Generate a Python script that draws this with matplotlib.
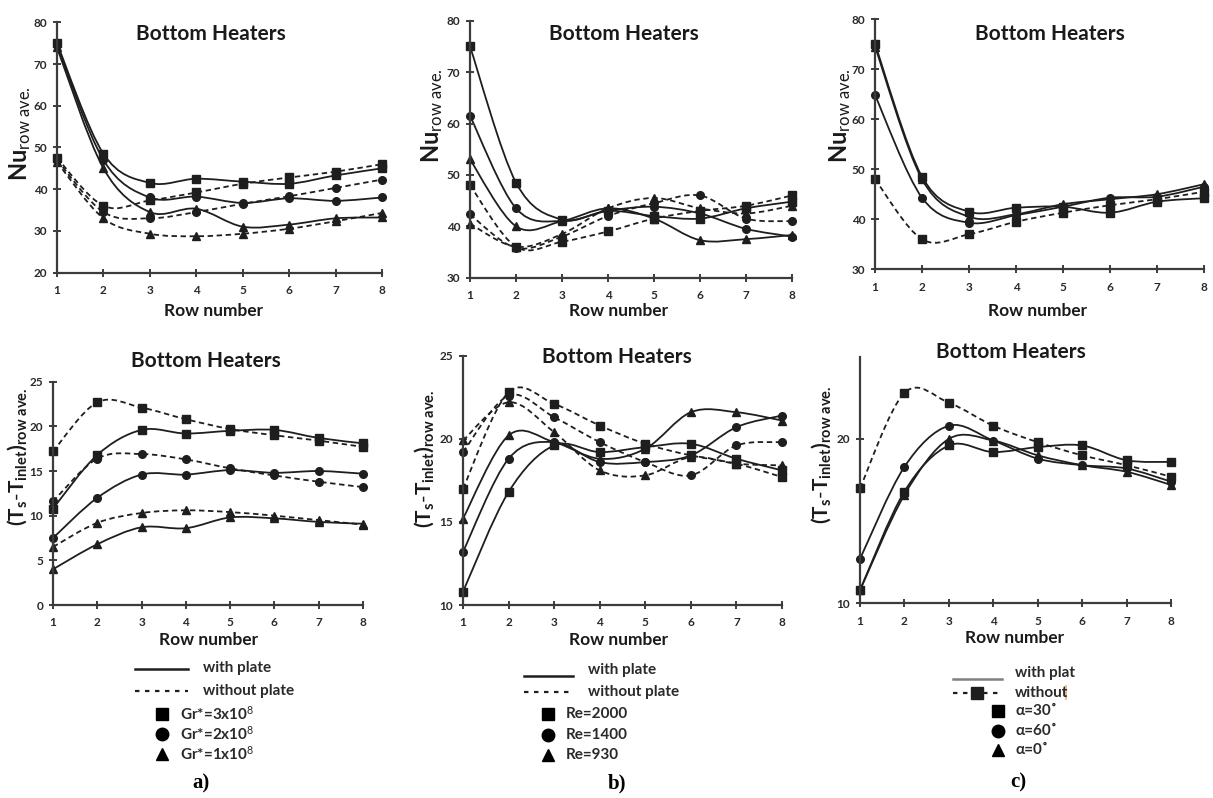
import matplotlib.pyplot as plt
from matplotlib import font_manager
from matplotlib.path import Path
from matplotlib.patches import PathPatch
from matplotlib.lines import Line2D

installed = {f.name for f in font_manager.fontManager.ttflist}
BASE = 'Liberation Sans Narrow' if 'Liberation Sans Narrow' in installed else 'Lato'

plt.rcParams['font.family'] = [BASE, 'Lato', 'DejaVu Sans']
plt.rcParams['mathtext.fontset'] = 'custom'
plt.rcParams['mathtext.rm'] = BASE
plt.rcParams['mathtext.it'] = BASE + ':italic'
plt.rcParams['mathtext.bf'] = BASE + ':bold'

rows = [1, 2, 3, 4, 5, 6, 7, 8]

# a) Grashof number, series order: 3x10^8, 2x10^8, 1x10^8
nu_gr_with = [
    [75.0, 48.5, 41.5, 42.5, 41.8, 41.3, 43.3, 45.0],
    [74.5, 47.0, 38.0, 38.2, 36.7, 37.8, 37.2, 38.0],
    [74.0, 45.0, 34.5, 35.3, 31.0, 31.5, 33.0, 33.2],
]
nu_gr_without = [
    [47.5, 36.0, 37.3, 39.2, 41.3, 42.8, 44.2, 46.0],
    [47.0, 34.5, 33.0, 34.5, 36.5, 38.3, 40.3, 42.3],
    [46.5, 33.0, 29.3, 28.7, 29.3, 30.5, 32.3, 34.3],
]
dt_gr_with = [
    [10.8, 16.8, 19.6, 19.2, 19.5, 19.6, 18.7, 18.1],
    [7.5, 12.0, 14.6, 14.6, 15.1, 14.8, 15.0, 14.7],
    [4.0, 6.8, 8.7, 8.6, 9.8, 9.7, 9.3, 9.1],
]
dt_gr_without = [
    [17.2, 22.7, 22.1, 20.8, 19.7, 19.0, 18.4, 17.7],
    [11.6, 16.4, 16.9, 16.3, 15.3, 14.5, 13.8, 13.2],
    [6.5, 9.2, 10.3, 10.6, 10.4, 10.0, 9.5, 9.0],
]
gr_labels = ['Gr*=3x10$^{8}$', 'Gr*=2x10$^{8}$', 'Gr*=1x10$^{8}$']

# b) Reynolds number, series order: 2000, 1400, 930
nu_re_with = [
    [75.0, 48.5, 41.3, 43.0, 42.0, 41.5, 43.5, 44.8],
    [61.5, 43.5, 41.0, 43.0, 43.8, 42.5, 39.5, 38.0],
    [53.0, 40.0, 41.0, 43.5, 41.5, 37.3, 37.5, 38.3],
]
nu_re_without = [
    [48.0, 36.0, 37.0, 39.0, 41.5, 43.0, 44.0, 46.0],
    [42.3, 35.8, 38.0, 42.0, 44.5, 46.0, 41.5, 41.0],
    [40.5, 36.0, 38.5, 43.5, 45.5, 43.5, 42.5, 44.0],
]
dt_re_with = [
    [10.8, 16.8, 19.6, 19.2, 19.5, 19.7, 18.8, 18.1],
    [13.2, 18.8, 19.8, 18.6, 18.6, 19.0, 20.7, 21.4],
    [15.2, 20.2, 19.8, 18.8, 19.4, 21.6, 21.6, 21.1],
]
dt_re_without = [
    [17.0, 22.8, 22.1, 20.8, 19.7, 19.0, 18.5, 17.7],
    [19.2, 22.6, 21.3, 19.8, 18.6, 17.8, 19.6, 19.8],
    [19.9, 22.2, 20.4, 18.1, 17.8, 18.9, 18.5, 18.4],
]
re_labels = ['Re=2000', 'Re=1400', 'Re=930']

# c) inclination angle, series order: 30, 60, 0 degrees
nu_al_with = [
    [75.0, 48.5, 41.5, 42.3, 42.5, 41.3, 43.5, 44.2],
    [64.8, 44.3, 39.3, 40.8, 42.5, 44.3, 44.5, 46.5],
    [74.5, 48.0, 40.5, 41.0, 43.0, 44.0, 45.0, 47.0],
]
nu_al_without = [[48.0, 36.0, 37.0, 39.5, 41.3, 42.8, 44.0, 45.5]]
dt_al_with = [
    [10.8, 16.8, 19.6, 19.2, 19.5, 19.6, 18.7, 18.6],
    [12.7, 18.3, 20.8, 19.9, 18.8, 18.4, 18.2, 17.4],
    [10.8, 16.6, 20.0, 19.9, 19.0, 18.4, 18.0, 17.2],
]
dt_al_without = [[17.0, 22.8, 22.2, 20.8, 19.8, 19.0, 18.4, 17.7]]
al_labels = ['α=30˚', 'α=60˚', 'α=0˚']

W, H = 1213, 798
INK = '#1e1e1e'
AXIS = '#3c3c3c'
TEXT = '#1a1a1a'
MARKERS = ['s', 'o', '^']
DASH = (0, (3, 2))


def fx(x):
    return x / W


def fy(y):
    return 1 - y / H


def smooth_path(x, y):
    # Bezier segments through every point, control handles at 1/6 of the neighbour chord
    pts = list(zip(x, y))
    n = len(pts)
    verts = [pts[0]]
    codes = [Path.MOVETO]
    for i in range(n - 1):
        p0 = pts[max(i - 1, 0)]
        p1 = pts[i]
        p2 = pts[i + 1]
        p3 = pts[min(i + 2, n - 1)]
        c1 = (p1[0] + (p2[0] - p0[0]) / 6, p1[1] + (p2[1] - p0[1]) / 6)
        c2 = (p2[0] - (p3[0] - p1[0]) / 6, p2[1] - (p3[1] - p1[1]) / 6)
        verts += [c1, c2, p2]
        codes += [Path.CURVE4] * 3
    return Path(verts, codes)


def draw_series(ax, y, marker, dashed):
    ls = DASH if dashed else '-'
    ax.add_patch(PathPatch(smooth_path(rows, y), fill=False, edgecolor=INK,
                           lw=1.3, linestyle=ls, clip_on=False))
    ax.plot(rows, y, ls='none', marker=marker, ms=5.5, color=INK, clip_on=False)


def make_panel(box, ylim, yticks, with_plate, without_plate):
    x0, x1, ytop, ybot = box
    ax = fig.add_axes([fx(x0), fy(ybot), (x1 - x0) / W, (ybot - ytop) / H])
    ax.set_xlim(1, 8)
    ax.set_ylim(*ylim)
    ax.set_xticks(rows)
    ax.set_yticks(yticks)
    ax.patch.set_visible(False)
    for side in ['top', 'right']:
        ax.spines[side].set_visible(False)
    for side in ['left', 'bottom']:
        ax.spines[side].set_linewidth(1.6)
        ax.spines[side].set_color(AXIS)
    ax.tick_params(direction='inout', length=6, width=1.4, color=AXIS,
                   labelsize=8.5, labelcolor='#2a2a2a')
    ax.tick_params(axis='x', pad=6)
    ax.tick_params(axis='y', pad=4)
    for lab in ax.get_xticklabels() + ax.get_yticklabels():
        lab.set_fontweight('bold')
    for i, y in enumerate(with_plate):
        draw_series(ax, y, MARKERS[i], False)
    for i, y in enumerate(without_plate):
        draw_series(ax, y, MARKERS[i], True)
    return ax


def legend_block(line_x, line_ys, text_x, text_ys, mark_x, mark_ys, labels,
                 line_texts, tag, tag_xy, solid_color=INK, dash_marker=False):
    fig.add_artist(Line2D([fx(line_x[0]), fx(line_x[1])], [fy(line_ys[0])] * 2,
                          color=solid_color, lw=1.8, transform=fig.transFigure))
    fig.add_artist(Line2D([fx(line_x[0]), fx(line_x[1])], [fy(line_ys[1])] * 2,
                          color=INK, lw=1.6, ls=(0, (2, 2.5)), transform=fig.transFigure))
    if dash_marker:
        fig.add_artist(Line2D([fx((line_x[0] + line_x[1]) / 2 - 1)], [fy(line_ys[1])],
                              marker='s', ms=8, color=INK, ls='none',
                              transform=fig.transFigure))
    for t, ty in zip(line_texts, text_ys):
        fig.text(fx(text_x), fy(ty), t, fontsize=11, fontweight='bold',
                 color='#2a2a2a', va='center', ha='left')
    for i, (lab, my) in enumerate(zip(labels, mark_ys)):
        fig.add_artist(Line2D([fx(mark_x)], [fy(my)], marker=MARKERS[i], ms=9,
                              color='black', ls='none', transform=fig.transFigure))
        fig.text(fx(mark_x + 18), fy(my), lab, fontsize=11, fontweight='bold',
                 color='#2a2a2a', va='center', ha='left')
    fig.text(fx(tag_xy[0]), fy(tag_xy[1]), tag, fontsize=15, fontweight='bold',
             family='Liberation Serif', ha='center', va='center')


fig = plt.figure(figsize=(W / 100, H / 100), dpi=100)

nu_label = r'$\mathbf{Nu}_{\mathrm{row\ ave.}}$'
dt_label = (r'$\mathbf{(T}_{\mathbf{s}}\mathbf{\text{-}T}_{\mathbf{inlet}}'
            r'\mathbf{)}_{\mathbf{row\ ave.}}$')

panels = [
    # box (x0, x1, ytop, ybot), ylim, yticks, data, title xy, ylabel xy, xlabel xy, label, size
    ((57, 382, 22.5, 272.5), (20, 80), range(20, 81, 10), nu_gr_with, nu_gr_without,
     (211, 34), (20, 134), (214, 311), nu_label, 17),
    ((470, 792, 20.7, 277.7), (30, 80), range(30, 81, 10), nu_re_with, nu_re_without,
     (624, 34), (432, 116), (619, 311), nu_label, 17),
    ((875, 1204, 19, 269.3), (30, 80), range(30, 81, 10), nu_al_with, nu_al_without,
     (1050, 34), (840, 116), (1038, 311), nu_label, 17),
    ((53, 363, 381.7, 605), (0, 25), range(0, 26, 5), dt_gr_with, dt_gr_without,
     (206, 361), (17, 457), (209, 640), dt_label, 15),
    ((463, 782, 355.7, 605), (10, 25), range(10, 26, 5), dt_re_with, dt_re_without,
     (617, 357), (424, 459), (619, 640), dt_label, 15),
    ((860, 1171, 356.7, 603.3), (10, 25), [10, 20], dt_al_with, dt_al_without,
     (1011, 352), (821, 455), (1015, 638), dt_label, 15),
]

for box, ylim, yticks, wp, wop, title_xy, ylab_xy, xlab_xy, ylab, ylab_size in panels:
    make_panel(box, ylim, list(yticks), wp, wop)
    fig.text(fx(title_xy[0]), fy(title_xy[1]), 'Bottom Heaters', fontsize=15,
             fontweight='bold', color=TEXT, ha='center', va='center')
    fig.text(fx(ylab_xy[0]), fy(ylab_xy[1]), ylab, fontsize=ylab_size, rotation=90,
             color=TEXT, ha='center', va='center')
    fig.text(fx(xlab_xy[0]), fy(xlab_xy[1]), 'Row number', fontsize=12.5,
             fontweight='bold', color=TEXT, ha='center', va='center')

legend_block((135, 188), (669, 691), 203, (668, 691), 162, (714, 734, 754),
             gr_labels, ['with plate', 'without plate'], 'a)', (201, 783))
legend_block((524, 573), (676, 692), 588, (670, 692), 548, (714, 735, 755),
             re_labels, ['with plate', 'without plate'], 'b)', (617, 783))
legend_block((953, 1002), (679, 693), 1015, (673, 693), 998, (711, 731, 750),
             al_labels, ['with plat', 'without'], 'c)', (1018, 782),
             solid_color='#808080', dash_marker=True)
fig.add_artist(Line2D([fx(1066), fx(1066)], [fy(686), fy(699)], color='#e8b070',
                      lw=1.2, transform=fig.transFigure))

fig.savefig('out.png', dpi=100)
